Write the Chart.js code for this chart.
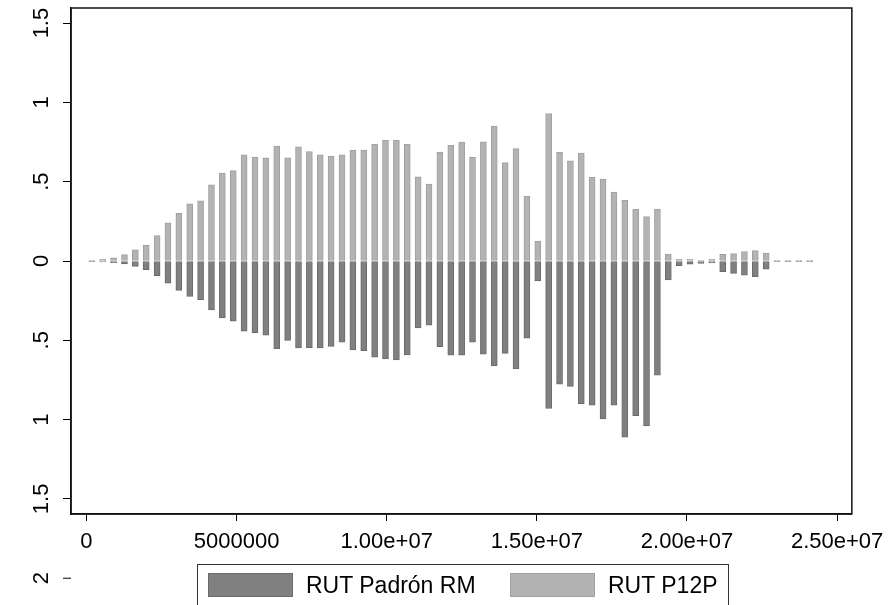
<!DOCTYPE html>
<html>
<head>
<meta charset="utf-8">
<title>RUT Padrón RM vs RUT P12P</title>
<script src="https://cdn.jsdelivr.net/npm/chart.js@4.4.1/dist/chart.umd.min.js"></script>
<style>
  html, body { margin: 0; padding: 0; background: #fff; }
  #wrap { position: relative; width: 892px; height: 605px; overflow: hidden; }
  #chart { display: block; }
  #legend { position: absolute; left: 197px; top: 564px; width: 532px; height: 60px; border: 1px solid #333; box-sizing: border-box;
            font-family: 'Liberation Sans', Arial, sans-serif; font-size: 23px; color: #000; }
  .item { position: absolute; top: 8px; height: 24px; display: flex; align-items: center; white-space: nowrap; }
  .sw { width: 85px; height: 24px; box-sizing: border-box; border: 1px solid; margin-right: 13px; }
</style>
</head>
<body>
<div id="wrap">
  <canvas id="chart" width="892" height="605" style="width:892px;height:605px"></canvas>
  <div id="legend"></div>
</div>
<script>
// datos (centro de cada barra en el eje x)
const binCenters = [
  181000, 543000, 905000, 1268000, 1630000, 1992000, 2354000, 2716000, 3079000, 3441000,
  3803000, 4165000, 4527000, 4890000, 5252000, 5614000, 5976000, 6338000, 6701000, 7063000,
  7425000, 7787000, 8149000, 8512000, 8874000, 9236000, 9598000, 9960000, 10323000, 10685000,
  11047000, 11409000, 11771000, 12134000, 12496000, 12858000, 13220000, 13582000, 13945000, 14307000,
  14669000, 15031000, 15393000, 15756000, 16118000, 16480000, 16842000, 17204000, 17567000, 17929000,
  18291000, 18653000, 19015000, 19378000, 19740000, 20102000, 20464000, 20826000, 21189000, 21551000,
  21913000, 22275000, 22637000, 23000000, 23362000, 23724000, 24086000
];
// RUT Padrón RM (hacia abajo)
const padronRM = [
  -0.004, -0.006, -0.01, -0.019, -0.034, -0.055, -0.092, -0.14, -0.185, -0.223,
  -0.244, -0.309, -0.359, -0.38, -0.443, -0.452, -0.468, -0.552, -0.5, -0.548,
  -0.546, -0.548, -0.538, -0.512, -0.561, -0.565, -0.607, -0.617, -0.624, -0.592,
  -0.422, -0.405, -0.54, -0.594, -0.594, -0.512, -0.588, -0.662, -0.582, -0.68,
  -0.487, -0.126, -0.93, -0.777, -0.79, -0.899, -0.909, -0.996, -0.909, -1.111,
  -0.975, -1.04, -0.72, -0.12, -0.03, -0.02, -0.015, -0.012, -0.067, -0.078,
  -0.09, -0.099, -0.052, -0.002, -0.002, -0.002, -0.002
];
// RUT P12P (hacia arriba)
const p12p = [
  0.005, 0.01, 0.02, 0.04, 0.07, 0.10, 0.16, 0.24, 0.30, 0.36,
  0.38, 0.48, 0.555, 0.57, 0.67, 0.655, 0.65, 0.725, 0.65, 0.72,
  0.69, 0.67, 0.66, 0.67, 0.70, 0.70, 0.737, 0.76, 0.76, 0.737,
  0.53, 0.485, 0.687, 0.73, 0.75, 0.653, 0.752, 0.85, 0.62, 0.708,
  0.41, 0.126, 0.93, 0.687, 0.632, 0.68, 0.527, 0.517, 0.435, 0.382,
  0.325, 0.28, 0.328, 0.044, 0.01, 0.01, 0.005, 0.01, 0.042, 0.046,
  0.06, 0.065, 0.05, 0.004, 0.004, 0.004, 0.004
];
const seriesNames = ['RUT Padrón RM', 'RUT P12P'];
const xTickValues = [0, 5000000, 10000000, 15000000, 20000000, 25000000];
const xTickLabels = ['0', '5000000', '1.00e+07', '1.50e+07', '2.00e+07', '2.50e+07'];
const yTickValues = [-2, -1.5, -1, -0.5, 0, 0.5, 1, 1.5];
const yTickLabels = ['2', '1.5', '1', '.5', '0', '.5', '1', '1.5'];

const FONT = "'Liberation Sans', Arial, sans-serif";
const colors = [
  { fill: '#808080', line: '#6a6a6a' },
  { fill: '#b3b3b3', line: '#a0a0a0' }
];

// marco + etiquetas del eje y giradas (estilo Stata)
const stataFrame = {
  id: 'stataFrame',
  afterDraw(chart) {
    const c = chart.ctx, a = chart.chartArea, ys = chart.scales.y;
    c.save();
    c.strokeStyle = '#111'; c.lineWidth = 1.5;
    c.strokeRect(a.left, a.top, a.right - a.left, a.bottom - a.top);
    c.fillStyle = '#000';
    c.font = '22px ' + FONT;
    c.textAlign = 'center'; c.textBaseline = 'middle';
    yTickValues.forEach((v, i) => {
      const y = ys.getPixelForValue(v);
      if (y > a.bottom + 1) {
        c.lineWidth = 1; c.strokeStyle = '#000';
        c.beginPath(); c.moveTo(a.left - 8, y); c.lineTo(a.left, y); c.stroke();
      }
      c.save();
      c.translate(42, y);
      c.rotate(-Math.PI / 2);
      c.fillText(yTickLabels[i], 0, 0);
      c.restore();
    });
    c.restore();
  }
};

const ctx = document.getElementById('chart');
const chart = new Chart(ctx, {
  type: 'bar',
  data: {
    datasets: [
      { label: seriesNames[0], data: binCenters.map((x, i) => ({ x, y: padronRM[i] })),
        backgroundColor: colors[0].fill, borderColor: colors[0].line, borderWidth: 1,
        borderSkipped: false, barThickness: 6, grouped: false },
      { label: seriesNames[1], data: binCenters.map((x, i) => ({ x, y: p12p[i] })),
        backgroundColor: colors[1].fill, borderColor: colors[1].line, borderWidth: 1,
        borderSkipped: false, barThickness: 6, grouped: false }
    ]
  },
  options: {
    responsive: false,
    animation: false,
    layout: { padding: { left: 0, right: 36, top: 8, bottom: 0 } },
    plugins: { legend: { display: false }, tooltip: { enabled: false } },
    scales: {
      x: {
        type: 'linear', min: -513000, max: 25490000, offset: false,
        afterBuildTicks: s => { s.ticks = xTickValues.map(v => ({ value: v })); },
        afterFit: s => { s.height = 91; },
        ticks: { callback: (v, i) => xTickLabels[i], color: '#000', font: { family: FONT, size: 22 },
                 padding: 8, maxRotation: 0, autoSkip: false },
        grid: { drawOnChartArea: false, offset: false, color: '#000', tickLength: 7 },
        border: { color: '#111', width: 1.5 }
      },
      y: {
        min: -1.595, max: 1.595,
        afterBuildTicks: s => { s.ticks = yTickValues.filter(v => v >= s.min).map(v => ({ value: v })); },
        afterFit: s => { s.width = 71; },
        ticks: { display: false },
        grid: { drawOnChartArea: false, color: '#000', tickLength: 8 },
        border: { color: '#111', width: 1.5 }
      }
    }
  },
  plugins: [stataFrame]
});

// leyenda
const legend = document.getElementById('legend');
const legendX = [10, 312];
seriesNames.forEach((name, i) => {
  const it = document.createElement('div');
  it.className = 'item';
  it.style.left = legendX[i] + 'px';
  it.innerHTML = '<span class="sw" style="background:' + colors[i].fill + ';border-color:' + colors[i].line + '"></span><span>' + name + '</span>';
  legend.appendChild(it);
});
</script>
</body>
</html>
